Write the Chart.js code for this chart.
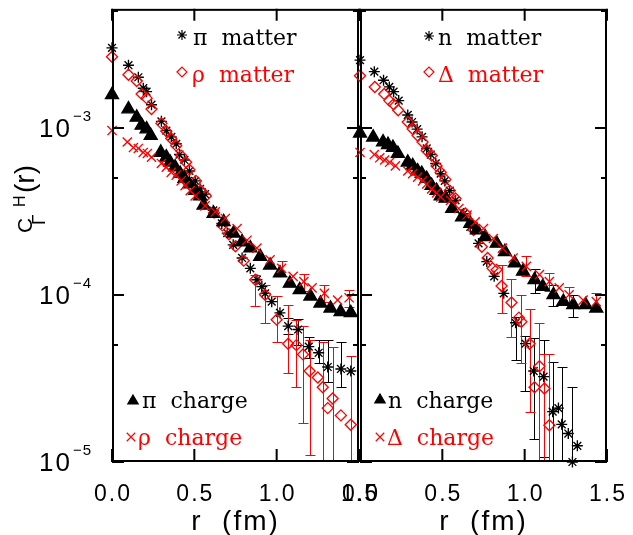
<!DOCTYPE html>
<html>
<head>
<meta charset="utf-8">
<script src="https://cdn.jsdelivr.net/npm/chart.js@4.4.1/dist/chart.umd.min.js"></script>
<style>
  html, body { margin: 0; padding: 0; background: #fff; }
  #wrap { position: relative; width: 633px; height: 535px; }
  #wrap canvas { position: absolute; left: 0; top: 0; }
</style>
</head>
<body>
<div id="wrap">
  <canvas id="leftPanel" width="633" height="535"></canvas>
  <canvas id="rightPanel" width="633" height="535"></canvas>
</div>
<script>
// axes
const xTicks = [0, 0.5, 1.0, 1.5];
const yTicks = [1e-5, 5e-5, 1e-4, 5e-4, 1e-3, 5e-3];
const yMin = 1e-5;
const yMax = 5.13e-3;

// left panel: [r (fm), C(r)]
const piMatter = [
  [0.00, 3.0e-3], [0.10, 2.36e-3], [0.16, 2.0e-3], [0.19, 1.72e-3], [0.21, 1.64e-3],
  [0.24, 1.37e-3], [0.30, 1.09e-3], [0.33, 9.6e-4], [0.36, 8.8e-4], [0.39, 8.0e-4],
  [0.41, 6.9e-4], [0.44, 6.4e-4], [0.47, 5.5e-4], [0.505, 4.8e-4], [0.535, 4.3e-4],
  [0.565, 4.0e-4], [0.615, 3.2e-4], [0.667, 2.67e-4], [0.70, 2.34e-4], [0.736, 1.99e-4],
  [0.79, 1.66e-4], [0.84, 1.44e-4], [0.88, 1.23e-4], [0.91, 1.12e-4], [0.93, 1.02e-4],
  [0.97, 9.1e-5], [1.02, 7.8e-5], [1.07, 6.5e-5], [1.13, 6.2e-5], [1.195, 4.9e-5],
  [1.255, 4.5e-5], [1.31, 3.7e-5], [1.39, 3.6e-5], [1.45, 3.5e-5]
];
const rhoMatter = [
  [0.00, 2.65e-3], [0.10, 2.07e-3], [0.15, 1.9e-3], [0.18, 1.59e-3], [0.21, 1.5e-3],
  [0.24, 1.29e-3], [0.30, 1.06e-3], [0.33, 9.5e-4], [0.36, 8.6e-4], [0.39, 7.8e-4],
  [0.42, 6.8e-4], [0.45, 6.2e-4], [0.47, 5.6e-4], [0.51, 4.8e-4], [0.54, 4.2e-4],
  [0.57, 3.9e-4], [0.62, 3.1e-4], [0.67, 2.6e-4], [0.71, 2.3e-4], [0.75, 1.95e-4],
  [0.80, 1.6e-4], [0.87, 1.23e-4], [0.93, 1.0e-4], [1.00, 7.1e-5], [1.07, 5.1e-5],
  [1.12, 5.0e-5], [1.16, 4.4e-5], [1.20, 3.5e-5], [1.25, 3.2e-5], [1.28, 2.8e-5],
  [1.31, 2.1e-5], [1.34, 2.4e-5], [1.39, 1.9e-5], [1.45, 1.67e-5]
];
const piCharge = [
  [0.00, 1.57e-3], [0.10, 1.29e-3], [0.15, 1.15e-3], [0.18, 1.03e-3], [0.21, 9.8e-4],
  [0.235, 8.96e-4], [0.296, 7.1e-4], [0.33, 6.65e-4], [0.353, 6.2e-4], [0.383, 5.8e-4],
  [0.414, 5.3e-4], [0.44, 4.95e-4], [0.47, 4.6e-4], [0.505, 4.2e-4], [0.535, 3.9e-4],
  [0.556, 3.43e-4], [0.617, 3.06e-4], [0.678, 2.73e-4], [0.738, 2.33e-4], [0.79, 2.07e-4],
  [0.84, 1.9e-4], [0.90, 1.69e-4], [0.96, 1.5e-4], [1.02, 1.35e-4], [1.08, 1.17e-4],
  [1.14, 1.07e-4], [1.205, 9.8e-5], [1.266, 8.9e-5], [1.327, 8.3e-5], [1.388, 7.9e-5],
  [1.45, 7.8e-5]
];
const rhoCharge = [
  [0.00, 9.6e-4], [0.093, 8.2e-4], [0.13, 7.6e-4], [0.16, 7.5e-4], [0.19, 7.1e-4],
  [0.215, 7.0e-4], [0.24, 6.65e-4], [0.30, 6.1e-4], [0.33, 5.8e-4], [0.36, 5.4e-4],
  [0.39, 5.2e-4], [0.42, 4.8e-4], [0.444, 4.5e-4], [0.475, 4.2e-4], [0.505, 3.9e-4],
  [0.565, 3.4e-4], [0.627, 3.13e-4], [0.688, 2.86e-4], [0.76, 2.49e-4], [0.82, 2.12e-4],
  [0.88, 1.9e-4], [0.96, 1.62e-4], [1.03, 1.44e-4], [1.10, 1.29e-4], [1.165, 1.2e-4],
  [1.215, 1.1e-4], [1.29, 1.02e-4], [1.37, 9.3e-5], [1.44, 9.6e-5]
];
// error bars: [r, low, high]
const piMatterErr = [
  [1.07, 5.8e-5, 7.3e-5], [1.13, 5.0e-5, 7.2e-5], [1.195, 4.2e-5, 5.6e-5],
  [1.255, 3.9e-5, 5.4e-5], [1.31, 3.0e-5, 5.4e-5], [1.39, 2.8e-5, 5.2e-5]
];
const rhoMatterErr = [
  [0.87, 8.6e-5, 1.31e-4], [0.93, 6.8e-5, 1.15e-4], [1.00, 5.2e-5, 9.9e-5],
  [1.07, 3.4e-5, 8.7e-5], [1.12, 2.8e-5, 7.1e-5], [1.16, 1.7e-5, 6.5e-5],
  [1.20, 1.1e-5, 5.4e-5], [1.28, 1.0e-5, 5.2e-5], [1.34, 1.0e-5, 4.9e-5],
  [1.45, 1.0e-5, 4.3e-5]
];
const piChargeErr = [];
const rhoChargeErr = [
  [1.03, 1.3e-4, 1.6e-4], [1.165, 1.06e-4, 1.34e-4], [1.29, 9.0e-5, 1.14e-4], [1.44, 8.5e-5, 1.07e-4]
];

// right panel
const nMatter = [
  [0.00, 2.53e-3], [0.087, 2.16e-3], [0.143, 1.92e-3], [0.178, 1.75e-3], [0.204, 1.64e-3],
  [0.235, 1.45e-3], [0.29, 1.19e-3], [0.316, 1.08e-3], [0.347, 9.8e-4], [0.377, 8.8e-4],
  [0.405, 7.5e-4], [0.43, 6.9e-4], [0.46, 6.1e-4], [0.49, 5.3e-4], [0.515, 4.8e-4],
  [0.545, 4.2e-4], [0.58, 3.67e-4], [0.63, 3.06e-4], [0.67, 2.55e-4], [0.72, 2.03e-4],
  [0.77, 1.58e-4], [0.815, 1.29e-4], [0.873, 1.02e-4], [0.945, 6.8e-5], [1.005, 5.1e-5],
  [1.055, 3.5e-5], [1.115, 3.24e-5], [1.17, 2.0e-5], [1.205, 2.1e-5], [1.225, 1.68e-5],
  [1.265, 1.48e-5], [1.29, 1.0e-5], [1.32, 1.25e-5]
];
const deltaMatter = [
  [0.00, 2.04e-3], [0.09, 1.75e-3], [0.147, 1.59e-3], [0.178, 1.45e-3], [0.204, 1.38e-3],
  [0.232, 1.27e-3], [0.29, 1.08e-3], [0.32, 9.8e-4], [0.35, 8.96e-4], [0.38, 8.2e-4],
  [0.405, 7.3e-4], [0.435, 6.8e-4], [0.465, 5.9e-4], [0.49, 5.4e-4], [0.518, 4.9e-4],
  [0.545, 4.2e-4], [0.58, 3.77e-4], [0.64, 3.06e-4], [0.69, 2.44e-4], [0.74, 1.94e-4],
  [0.775, 1.66e-4], [0.805, 1.44e-4], [0.83, 1.41e-4], [0.86, 1.13e-4], [0.92, 9.0e-5],
  [0.965, 7.3e-5], [0.98, 6.9e-5], [1.03, 5.1e-5], [1.06, 2.8e-5], [1.09, 3.74e-5],
  [1.12, 2.75e-5], [1.15, 1.66e-5]
];
const nCharge = [
  [0.00, 9.25e-4], [0.08, 8.75e-4], [0.14, 8.2e-4], [0.17, 7.9e-4], [0.20, 7.6e-4],
  [0.23, 7.0e-4], [0.29, 6.2e-4], [0.32, 5.9e-4], [0.35, 5.5e-4], [0.375, 5.3e-4],
  [0.405, 4.95e-4], [0.435, 4.5e-4], [0.465, 4.2e-4], [0.49, 3.9e-4], [0.52, 3.77e-4],
  [0.56, 3.28e-4], [0.62, 2.92e-4], [0.67, 2.67e-4], [0.71, 2.44e-4], [0.76, 2.22e-4],
  [0.83, 2.03e-4], [0.88, 1.81e-4], [0.94, 1.55e-4], [0.99, 1.38e-4], [1.06, 1.23e-4],
  [1.11, 1.12e-4], [1.175, 1.0e-4], [1.235, 9.1e-5], [1.295, 8.7e-5], [1.37, 8.7e-5],
  [1.435, 8.3e-5]
];
const deltaCharge = [
  [0.00, 7.1e-4], [0.087, 6.9e-4], [0.12, 6.6e-4], [0.15, 6.4e-4], [0.18, 6.2e-4],
  [0.215, 5.9e-4], [0.29, 5.5e-4], [0.32, 5.3e-4], [0.35, 5.06e-4], [0.38, 4.8e-4],
  [0.405, 4.6e-4], [0.435, 4.3e-4], [0.465, 4.07e-4], [0.49, 3.85e-4], [0.55, 3.67e-4],
  [0.60, 3.28e-4], [0.65, 3.0e-4], [0.70, 2.73e-4], [0.75, 2.49e-4], [0.81, 2.17e-4],
  [0.865, 1.9e-4], [0.93, 1.66e-4], [1.01, 1.48e-4], [1.09, 1.32e-4], [1.15, 1.2e-4],
  [1.21, 1.1e-4], [1.27, 1.0e-4], [1.355, 9.3e-5], [1.435, 9.1e-5]
];
const nMatterErr = [
  [0.945, 4.1e-5, 7.4e-5], [1.005, 2.65e-5, 5.65e-5], [1.055, 1.37e-5, 5.5e-5],
  [1.115, 1.07e-5, 5.4e-5], [1.17, 1.0e-5, 3.95e-5], [1.225, 1.0e-5, 3.7e-5],
  [1.29, 1.0e-5, 2.8e-5]
];
const deltaMatterErr = [
  [0.86, 7.8e-5, 1.5e-4], [0.92, 5.6e-5, 1.24e-4], [0.98, 3.9e-5, 1.0e-4],
  [1.03, 2.0e-5, 8.2e-5], [1.09, 1.0e-5, 6.8e-5], [1.12, 1.0e-5, 4.4e-5],
  [1.15, 1.0e-5, 4.4e-5]
];
const nChargeErr = [
  [1.06, 1.03e-4, 1.43e-4], [1.175, 8.6e-5, 1.14e-4], [1.295, 7.4e-5, 1.0e-4]
];
const deltaChargeErr = [
  [1.01, 1.3e-4, 1.7e-4], [1.15, 1.05e-4, 1.35e-4], [1.27, 8.8e-5, 1.12e-4], [1.435, 8.0e-5, 1.02e-4]
];

const BLACK = '#000000';
const RED = '#ff0000';

function pts(arr) {
  return arr.map(p => ({ x: p[0], y: p[1] }));
}

function series(label, data, err, color, style, radius, filled, order) {
  return {
    label: label,
    data: pts(data),
    err: err,
    color: color,
    showLine: false,
    pointStyle: style,
    pointRadius: radius,
    pointBorderColor: color,
    pointBackgroundColor: filled ? color : 'rgba(0,0,0,0)',
    pointBorderWidth: 1.35,
    clip: false,
    order: order
  };
}

function drawMarker(ctx, style, color, filled, radius, x, y) {
  ctx.save();
  ctx.strokeStyle = color;
  ctx.fillStyle = filled ? color : 'rgba(0,0,0,0)';
  ctx.lineWidth = 1.2;
  Chart.helpers.drawPoint(ctx, { pointStyle: style, radius: radius, borderWidth: 1.2, rotation: 0 }, x, y);
  ctx.restore();
}

function makePanel(cfg) {
  return {
    id: 'panel',
    beforeDatasetsDraw(chart) {
      const { ctx, chartArea: a } = chart;
      const xs = chart.scales.x, ys = chart.scales.y;
      ctx.save();
      ctx.beginPath();
      ctx.rect(a.left, a.top, a.right - a.left, a.bottom - a.top);
      ctx.clip();
      ctx.lineWidth = 1;
      chart.data.datasets.forEach(ds => {
        if (!ds.err) return;
        ctx.strokeStyle = ds.color;
        ds.err.forEach(e => {
          const x = Math.round(xs.getPixelForValue(e[0])) + 0.5;
          const y1 = Math.round(ys.getPixelForValue(e[1])) + 0.5;
          const y2 = Math.round(ys.getPixelForValue(e[2])) + 0.5;
          ctx.beginPath();
          ctx.moveTo(x, y1); ctx.lineTo(x, y2);
          ctx.moveTo(x - 5, y1); ctx.lineTo(x + 5, y1);
          ctx.moveTo(x - 5, y2); ctx.lineTo(x + 5, y2);
          ctx.stroke();
        });
      });
      ctx.restore();
    },
    afterDraw(chart) {
      const { ctx, chartArea: a } = chart;
      const xs = chart.scales.x, ys = chart.scales.y;
      ctx.save();
      // frame
      ctx.strokeStyle = BLACK;
      ctx.lineWidth = 2;
      ctx.strokeRect(a.left + 1, a.top + 1, a.right - a.left - 2, a.bottom - a.top - 2);
      // x ticks (inward, bottom and top)
      xs.ticks.forEach(t => {
        const x = xs.getPixelForValue(t.value);
        ctx.beginPath();
        ctx.moveTo(x, a.bottom); ctx.lineTo(x, a.bottom - 13);
        ctx.moveTo(x, a.top); ctx.lineTo(x, a.top + 12);
        ctx.stroke();
      });
      // y ticks (inward, left and right)
      ys.ticks.forEach(t => {
        const y = Math.round(ys.getPixelForValue(t.value));
        const lg = Math.log10(t.value);
        const major = Math.abs(lg - Math.round(lg)) < 1e-6;
        const len = major ? 12 : 6;
        ctx.beginPath();
        ctx.moveTo(a.left, y); ctx.lineTo(a.left + len, y);
        ctx.moveTo(a.right, y); ctx.lineTo(a.right - len, y);
        ctx.stroke();
      });
      // x tick labels
      ctx.fillStyle = BLACK;
      ctx.font = '23px "Liberation Sans", Arial, sans-serif';
      ctx.letterSpacing = '2px';
      ctx.textAlign = 'center';
      ctx.textBaseline = 'alphabetic';
      xs.ticks.forEach(t => {
        const x = xs.getPixelForValue(t.value);
        ctx.fillText(t.value.toFixed(1), x + 1, a.bottom + 39);
      });
      // x title
      ctx.font = '28px "Liberation Sans", Arial, sans-serif';
      ctx.fillText('r  (fm)', (a.left + a.right) / 2, 530);
      // y labels and title
      if (cfg.yLabels) {
        ys.ticks.forEach(t => {
          const lg = Math.round(Math.log10(t.value));
          if (Math.abs(Math.log10(t.value) - lg) > 1e-6) return;
          const y = ys.getPixelForValue(t.value);
          ctx.textAlign = 'right';
          ctx.letterSpacing = '2px';
          ctx.font = '26px "Liberation Sans", Arial, sans-serif';
          ctx.fillText('10', a.left - 40, y + 9);
          ctx.textAlign = 'left';
          ctx.letterSpacing = '1px';
          ctx.font = '15px "Liberation Sans", Arial, sans-serif';
          ctx.fillText('\u2212' + String(-lg), a.left - 39, y - 7);
        });
        ctx.save();
        ctx.translate(32, 233);
        ctx.rotate(-Math.PI / 2);
        ctx.textAlign = 'left';
        ctx.letterSpacing = '0px';
        ctx.font = '21px "Liberation Sans", Arial, sans-serif';
        ctx.fillText('C', 0, 0);
        ctx.font = '19px "Liberation Sans", Arial, sans-serif';
        ctx.fillText('\u0393', 8, 13);
        ctx.font = '16px "Liberation Sans", Arial, sans-serif';
        ctx.fillText('H', 26, -7);
        ctx.font = '28px "Liberation Sans", Arial, sans-serif';
        ctx.fillText('(r)', 40, 2);
        ctx.restore();
      }
      // in-plot legend
      ctx.letterSpacing = '0px';
      ctx.textAlign = 'left';
      ctx.font = '22px "DejaVu Serif", serif';
      cfg.legend.forEach(item => {
        const mx = a.left + item.dx;
        drawMarker(ctx, item.style, item.color, item.filled, item.radius, mx, item.my);
        ctx.fillStyle = item.color;
        ctx.fillText(item.text, mx + item.tx, item.by);
      });
      ctx.restore();
    }
  };
}

function makeChart(id, datasets, padRight, yWidth, cfg) {
  return new Chart(document.getElementById(id), {
    type: 'scatter',
    data: { datasets: datasets },
    plugins: [makePanel(cfg)],
    options: {
      responsive: false,
      animation: false,
      devicePixelRatio: 1,
      layout: { padding: { top: 8, right: padRight, left: 0, bottom: 0 } },
      plugins: { legend: { display: false }, tooltip: { enabled: false } },
      scales: {
        x: {
          type: 'linear', min: 0, max: 1.5,
          ticks: { display: false },
          grid: { display: false, drawTicks: false },
          border: { display: false },
          afterBuildTicks: s => { s.ticks = xTicks.map(v => ({ value: v })); },
          afterFit: s => { s.height = 73; }
        },
        y: {
          type: 'logarithmic', min: yMin, max: yMax,
          ticks: { display: false },
          grid: { display: false, drawTicks: false },
          border: { display: false },
          afterBuildTicks: s => { s.ticks = yTicks.map(v => ({ value: v })); },
          afterFit: s => { s.width = yWidth; }
        }
      }
    }
  });
}

makeChart('leftPanel', [
  series('\u03c0 charge', piCharge, piChargeErr, BLACK, 'triangle', 7.5, true, 2),
  series('\u03c1 charge', rhoCharge, rhoChargeErr, RED, 'crossRot', 6.5, false, 1),
  series('\u03c0 matter', piMatter, piMatterErr, BLACK, 'star', 5.5, false, 4),
  series('\u03c1 matter', rhoMatter, rhoMatterErr, RED, 'rectRot', 5.5, false, 3)
], 633 - 359, 112, {
  yLabels: true,
  legend: [
    { text: '\u03c0  matter', color: BLACK, style: 'star', filled: false, radius: 5, dx: 70, my: 35, tx: 11, by: 45 },
    { text: '\u03c1  matter', color: RED, style: 'rectRot', filled: false, radius: 5, dx: 70, my: 72, tx: 10, by: 82 },
    { text: '\u03c0  charge', color: BLACK, style: 'triangle', filled: true, radius: 6, dx: 21, my: 401, tx: 9, by: 408 },
    { text: '\u03c1  charge', color: RED, style: 'crossRot', filled: false, radius: 6, dx: 19, my: 437, tx: 7, by: 445 }
  ]
});

makeChart('rightPanel', [
  series('n charge', nCharge, nChargeErr, BLACK, 'triangle', 7.5, true, 2),
  series('\u0394 charge', deltaCharge, deltaChargeErr, RED, 'crossRot', 6.5, false, 1),
  series('n matter', nMatter, nMatterErr, BLACK, 'star', 5.5, false, 4),
  series('\u0394 matter', deltaMatter, deltaMatterErr, RED, 'rectRot', 5.5, false, 3)
], 633 - 607, 360, {
  yLabels: false,
  legend: [
    { text: 'n  matter', color: BLACK, style: 'star', filled: false, radius: 5, dx: 69, my: 36, tx: 9, by: 45 },
    { text: '\u0394  matter', color: RED, style: 'rectRot', filled: false, radius: 5, dx: 69, my: 72, tx: 9, by: 82 },
    { text: 'n  charge', color: BLACK, style: 'triangle', filled: true, radius: 6, dx: 20, my: 400, tx: 8, by: 408 },
    { text: '\u0394  charge', color: RED, style: 'crossRot', filled: false, radius: 6, dx: 20, my: 437, tx: 7, by: 445 }
  ]
});
</script>
</body>
</html>
